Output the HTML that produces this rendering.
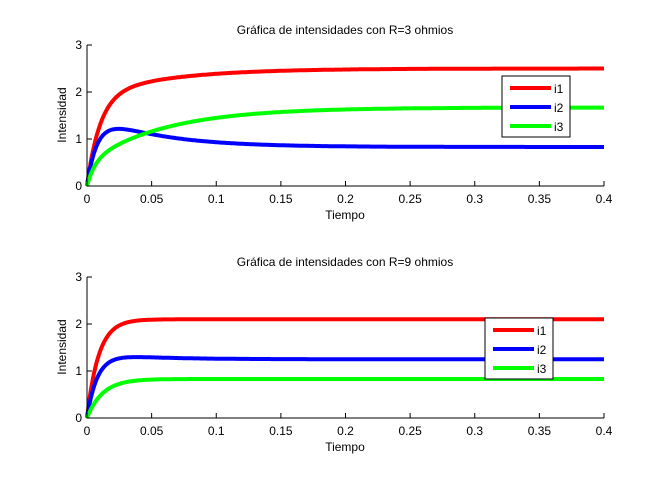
<!DOCTYPE html><html><head><style>body{margin:0;background:#fff}svg{display:block}text{font-family:"Liberation Sans",sans-serif;font-size:12px;fill:#000}</style></head><body>
<svg id="s" width="666" height="489" xmlns="http://www.w3.org/2000/svg">
<rect width="666" height="489" fill="#fff"/>
<g id="a1"></g><g id="a2"></g>
<text x="345" y="34" text-anchor="middle">Gráfica de intensidades con R=3 ohmios</text>
<text x="345" y="266" text-anchor="middle">Gráfica de intensidades con R=9 ohmios</text>
<text x="345" y="219" text-anchor="middle">Tiempo</text>
<text x="345" y="451" text-anchor="middle">Tiempo</text>
<text transform="translate(66,115) rotate(-90)" text-anchor="middle">Intensidad</text>
<text transform="translate(66,347) rotate(-90)" text-anchor="middle">Intensidad</text>
</svg>
<script>
var E=Math.exp;
function axes(g,y0,y3,fs,leg){
 var x0=87,x1=604,h='';
 function X(t){return x0+t/0.4*(x1-x0)}
 function Y(v){return y0-v/3*(y0-y3)}
 var cols=['#f00','#00f','#0f0'];
 fs.forEach(function(f,i){var p='';for(var k=0;k<=400;k++){var t=Math.pow(k/400,1.6)*0.4;p+=(k?'L':'M')+X(t).toFixed(1)+','+Y(f(t)).toFixed(1)}
  h+='<path d="'+p+'" fill="none" stroke="'+cols[i]+'" stroke-width="4"/>';});
 h+='<path d="M'+x0+','+y3+'V'+y0+'H'+x1+'" fill="none" stroke="#000"/>';
 for(var i=0;i<=8;i++){var x=X(i*0.05);h+='<line x1="'+x+'" x2="'+x+'" y1="'+y0+'" y2="'+(y0-5)+'" stroke="#000"/><text x="'+x+'" y="'+(y0+17)+'" text-anchor="middle">'+(i==0?'0':String(+(i*0.05).toFixed(2)))+'</text>';}
 for(var v=0;v<=3;v++){var y=Y(v);h+='<line x1="'+x0+'" x2="'+(x0+5)+'" y1="'+y+'" y2="'+y+'" stroke="#000"/><text x="'+(x0-5)+'" y="'+(y+4)+'" text-anchor="end">'+v+'</text>';}
 var lx=leg[0],ly=leg[1];
 h+='<rect x="'+lx+'" y="'+ly+'" width="68" height="61" fill="#fff" stroke="#000"/>';
 ['i1','i2','i3'].forEach(function(n,i){var y=ly+12+i*19;h+='<line x1="'+(lx+8)+'" x2="'+(lx+49)+'" y1="'+y+'" y2="'+y+'" stroke="'+cols[i]+'" stroke-width="4"/><text x="'+(lx+52)+'" y="'+(y+5)+'">'+n+'</text>';});
 document.getElementById(g).innerHTML=h;
}
axes('a1',186,45,[
 function(t){return 2.5-1.9*E(-t/0.01)-0.6*E(-t/0.06)},
 function(t){return 0.83+0.75*E(-t/0.05)-1.58*E(-t/0.008)},
 function(t){return 1.67-0.5*E(-t/0.006)-1.17*E(-t/0.06)}],[502,76]);
axes('a2',418,277,[
 function(t){return 2.1*(1-E(-t/0.009))},
 function(t){return 1.25+0.15*E(-t/0.04)-1.4*E(-t/0.008)},
 function(t){return 0.83*(1-E(-t/0.012))}],[485,318]);
</script>
</body></html>
